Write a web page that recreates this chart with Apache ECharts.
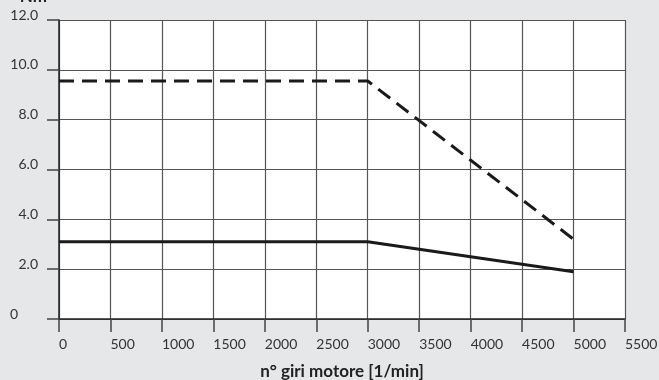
<!DOCTYPE html>
<html><head><meta charset="utf-8">
<script src="https://cdn.jsdelivr.net/npm/echarts@6/dist/echarts.min.js"></script>
<style>html,body{margin:0;padding:0;background:#e6e7e8;}#c{width:659px;height:380px;}</style>
</head><body><div id="c"></div>
<script>
const rpm = [0, 3000, 5000];
const dashedValues = [9.55, 9.55, 3.2];
const solidValues = [3.1, 3.1, 1.9];
const xTicks = [0,500,1000,1500,2000,2500,3000,3500,4000,4500,5000,5500];
const yTicks = [0,2,4,6,8,10,12];

const chart = echarts.init(document.getElementById('c'));
const font = 'Lato, "Open Sans", sans-serif';
chart.setOption({
  backgroundColor: '#e6e7e8',
  animation: false,
  grid: {left: 59, right: 34, top: 20, bottom: 61, show: true, backgroundColor: '#ffffff', borderWidth: 0,
    containLabel: false, outerBoundsMode: 'none'},
  xAxis: {
    type: 'value', min: 0, max: 5500, interval: 500,
    name: 'n° giri motore [1/min]', nameLocation: 'middle', nameGap: 44,
    nameTextStyle: {fontFamily: font, fontWeight: 'bold', fontSize: 17, color: '#222'},
    axisLine: {show: true, lineStyle: {color: '#222', width: 1.5}},
    axisTick: {show: true, length: 13, lineStyle: {color: '#444', width: 1.5}},
    axisLabel: {fontFamily: font, fontSize: 14, color: '#333', align: 'left', margin: 18,
      formatter: v => String(v)},
    splitLine: {show: true, lineStyle: {color: '#555', width: 1.2}}
  },
  yAxis: {
    type: 'value', min: 0, max: 12, interval: 2,
    name: 'Nm', nameLocation: 'end', nameGap: 15,
    nameTextStyle: {fontFamily: font, fontWeight: 'bold', fontSize: 17, color: '#222', align: 'right', verticalAlign: 'bottom', padding: [0, 12, 0, 0]},
    axisLine: {show: true, lineStyle: {color: '#222', width: 1.5}},
    axisTick: {show: true, length: 12, lineStyle: {color: '#444', width: 1.5}},
    axisLabel: {fontFamily: font, fontSize: 14, color: '#333', margin: 21, padding: [0, 0, 10, 0],
      formatter: v => v === 0 ? '{z|0}' : v.toFixed(1),
      rich: {z: {fontFamily: font, fontSize: 14, color: '#333', padding: [0, 20, 0, 0]}}},
    splitLine: {show: true, lineStyle: {color: '#555', width: 1.2}}
  },
  series: [
    {type: 'line', data: rpm.map((x, i) => [x, dashedValues[i]]), symbol: 'none',
      lineStyle: {color: '#1a1a1a', width: 3, type: [15, 8]}},
    {type: 'line', data: rpm.map((x, i) => [x, solidValues[i]]), symbol: 'none',
      lineStyle: {color: '#1a1a1a', width: 3}}
  ]
});
</script></body></html>
